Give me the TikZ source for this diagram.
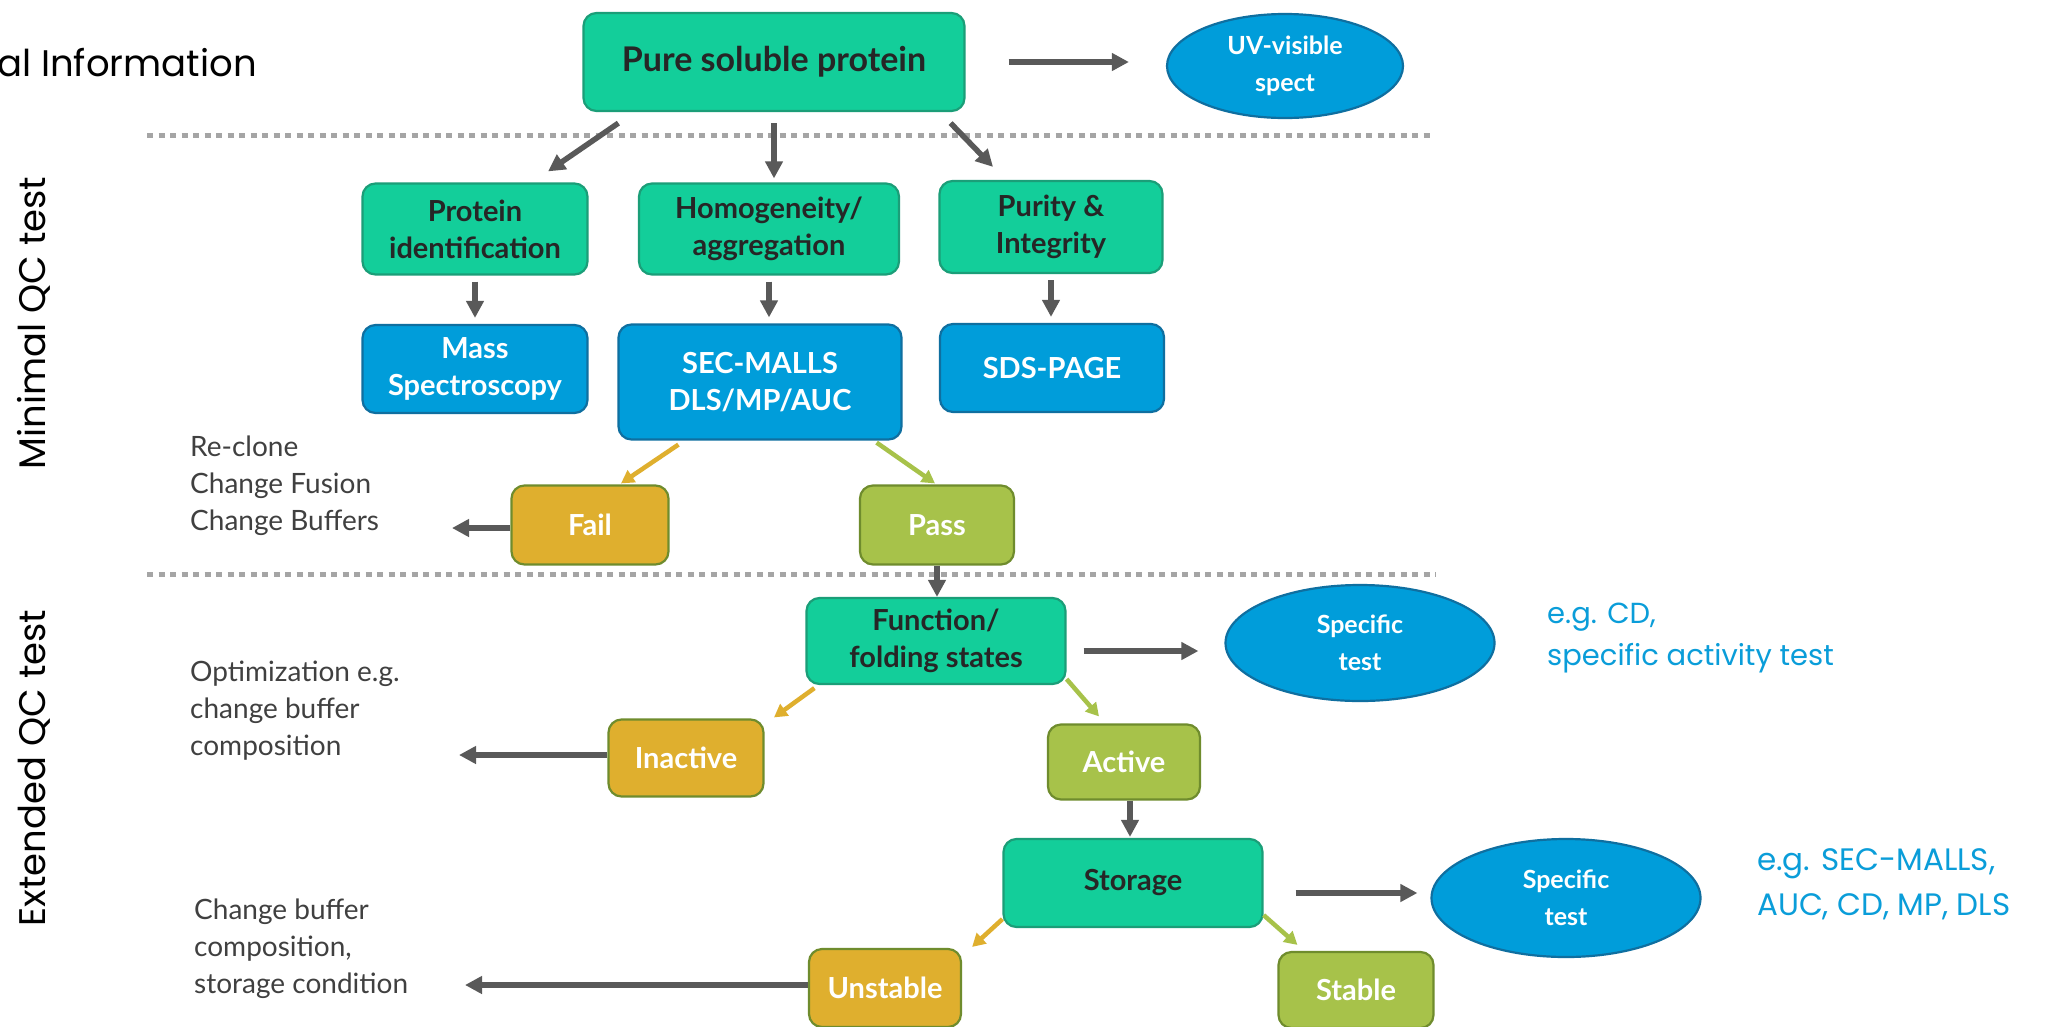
\documentclass[tikz,border=0pt]{standalone}
\usepackage{fontspec}
\setmainfont{Lato}
\newfontfamily\gothic{Poppins}
\usetikzlibrary{shapes.geometric,arrows.meta,calc}
\definecolor{tealc}{HTML}{13CE9A}
\definecolor{tealb}{HTML}{1B9E78}
\definecolor{bluec}{HTML}{009DDA}
\definecolor{blueb}{HTML}{0F6FA0}
\definecolor{yellowc}{HTML}{DFAF2E}
\definecolor{olivec}{HTML}{A7C24A}
\definecolor{oliveb}{HTML}{6F8C2D}
\definecolor{arrowgray}{HTML}{595959}
\definecolor{dotgray}{HTML}{A5A5A5}
\definecolor{darktext}{HTML}{262626}
\definecolor{bodytext}{HTML}{404040}
\definecolor{bluetext}{HTML}{0A9DD9}
\begin{document}
\begin{tikzpicture}[x=1pt,y=-1pt,
  box/.style={rectangle, rounded corners=13pt, line width=2.2pt, inner sep=0pt, align=center,
    font=\bfseries\fontsize{29}{37}\selectfont},
  gbox/.style={box, fill=tealc, draw=tealb, text=darktext},
  bbox/.style={box, fill=bluec, draw=blueb, text=white},
  ybox/.style={box, fill=yellowc, draw=oliveb, text=white},
  obox/.style={box, fill=olivec, draw=oliveb, text=white},
  ell/.style={ellipse, fill=bluec, draw=blueb, line width=2.2pt, inner sep=0pt, align=center, text=white,
    font=\bfseries\fontsize{25}{37}\selectfont},
  garrow/.style={draw=arrowgray, line width=5.5pt, -{Triangle[length=17pt,width=17pt]}},
  yarrow/.style={draw=yellowc, line width=4.5pt, -{Triangle[length=13pt,width=14pt]}},
  oarrow/.style={draw=olivec, line width=4.5pt, -{Triangle[length=13pt,width=14pt]}},
  sep/.style={draw=dotgray, line width=5pt, dash pattern=on 6pt off 5.5pt},
  body/.style={align=left, anchor=west, text=bodytext, inner sep=0pt, font=\fontsize{28}{37}\selectfont},
  bluenote/.style={align=left, anchor=west, text=bluetext, inner sep=0pt, font=\gothic\fontsize{29}{42}\selectfont},
  side/.style={rotate=90, anchor=base, inner sep=0pt, text=black, font=\gothic\fontsize{37}{40}\selectfont}
]
\useasboundingbox (0,0) rectangle (2056,1026);
\fill[white] (0,0) rectangle (2056,1026);

% separators
\coordinate (s1a) at (147,135); \coordinate (s1b) at (1432,135);
\coordinate (s2a) at (147,574); \coordinate (s2b) at (1436,574);
\draw[sep] (s1a) -- (s1b);
\draw[sep] (s2a) -- (s2b);

% side labels
\node[anchor=west, inner sep=0pt, font=\gothic\fontsize{37}{40}\selectfont] (info) at (-3,63) {al Information};
\node[side] (minimal) at (45,323) {Minimal QC test};
\node[side] (extended) at (45,768) {Extended QC test};

% top
\node[gbox, minimum width=381pt, minimum height=98pt, font=\bfseries\fontsize{34}{38}\selectfont] (pure) at (774,62) {\raisebox{-3pt}{Pure soluble protein}};
\node[ell, minimum width=236pt, minimum height=104pt] (uv) at (1285,66) {UV-visible\\spect};

% minimal QC row
\node[gbox, minimum width=225pt, minimum height=91pt] (protid) at (475,229) {Protein\\identification};
\node[gbox, minimum width=260pt, minimum height=91pt] (homo) at (769,229) {Homogeneity/\\aggregation};
\node[gbox, minimum width=223pt, minimum height=92pt] (purity) at (1051,227) {Purity \&\\Integrity};
\node[bbox, minimum width=225pt, minimum height=88pt] (mass) at (475,369) {Mass\\Spectroscopy};
\node[bbox, minimum width=283pt, minimum height=115pt] (sec) at (760,382) {SEC-MALLS\\DLS/MP/AUC};
\node[bbox, minimum width=224pt, minimum height=88pt] (sds) at (1052,368) {SDS-PAGE};
\node[ybox, minimum width=157pt, minimum height=79pt] (fail) at (590,525) {Fail};
\node[obox, minimum width=154pt, minimum height=79pt] (pass) at (937,525) {Pass};
\node[body] (reclone) at (190,486) {Re-clone\\Change Fusion\\Change Buffers};

% extended QC
\node[gbox, minimum width=259pt, minimum height=86pt] (func) at (936,641) {Function/\\folding states};
\node[ell, minimum width=269pt, minimum height=116pt] (spec1) at (1360,643) {Specific\\test};
\node[bluenote] (note1) at (1547,638) {e.g. CD,\\specific activity test};
\node[ybox, minimum width=155pt, minimum height=77pt] (inactive) at (686,758) {Inactive};
\node[obox, minimum width=152pt, minimum height=75pt] (active) at (1124,762) {Active};
\node[body] (optim) at (190,711) {Optimization e.g.\\change buffer\\composition};
\node[gbox, minimum width=259pt, minimum height=88pt] (storage) at (1133,883) {Storage};
\node[ell, minimum width=269pt, minimum height=118pt] (spec2) at (1566,898) {Specific\\test};
\node[bluenote, font=\gothic\fontsize{31}{45}\selectfont] (note2) at (1757,884) {e.g. SEC-MALLS,\\AUC, CD, MP, DLS};
\node[ybox, minimum width=152pt, minimum height=78pt] (unstable) at (885,988) {Unstable};
\node[obox, minimum width=155pt, minimum height=76pt] (stable) at (1356,990) {Stable};
\node[body] (chbuf) at (194,949) {Change buffer\\composition,\\storage condition};

% free ends of the left arrows
\coordinate (failtip) at (452,528);
\coordinate (inactivetip) at (459,755);
\coordinate (unstabletip) at (465,985);

% connectors
\draw[garrow, shorten <=43pt, shorten >=37pt] (pure.east) -- (pure.east -| uv.west);
\draw[garrow] ([shift={(36,11)}]pure.south west) -- ([shift={(73,-11)}]protid.north);
\draw[garrow, shorten <=11pt, shorten >=4pt] (pure.south) -- (pure.south |- homo.north);
\draw[garrow] ([shift={(-15,11)}]pure.south east) -- ([shift={(-58,-13)}]purity.north);
\draw[garrow, shorten <=6pt, shorten >=6pt] (protid.south) -- (mass.north);
\draw[garrow, shorten <=6pt, shorten >=6pt] (homo.south) -- (homo.south |- sec.north);
\draw[garrow, shorten <=6pt, shorten >=6pt] (purity.south) -- (purity.south |- sds.north);
\draw[yarrow] ([shift={(61,4)}]sec.south west) -- ([shift={(31,-1)}]fail.north);
\draw[oarrow] ([shift={(-26,2)}]sec.south east) -- ([shift={(-2,-1)}]pass.north);
\draw[garrow] (fail.west |- failtip) -- (failtip);
\draw[garrow] (pass.south) -- (pass.south |- func.north);
\draw[garrow, shorten <=17pt, shorten >=26pt] ([yshift=-10]func.east) -- ([yshift=-10]func.east -| spec1.west);
\draw[yarrow] ([shift={(9,3)}]func.south west) -- ([shift={(88,-1)}]inactive.north);
\draw[oarrow] ([shift={(0,-6)}]func.south east) -- ([shift={(-25,-7)}]active.north);
\draw[garrow, shorten >=1pt] ([xshift=6]active.south) -- ([xshift=6]active.south |- storage.north);
\draw[garrow, shorten <=32pt, shorten >=13pt] ([yshift=-10]storage.east) -- ([yshift=-10]storage.east -| spec2.west);
\draw[garrow] (inactive.west |- inactivetip) -- (inactivetip);
\draw[yarrow] ([shift={(0,-9)}]storage.south west) -- ([shift={(10,-1)}]unstable.north east);
\draw[oarrow] ([shift={(0,-13)}]storage.south east) -- ([shift={(20,-6)}]stable.north west);
\draw[garrow] (unstable.west |- unstabletip) -- (unstabletip);
\end{tikzpicture}
\end{document}
